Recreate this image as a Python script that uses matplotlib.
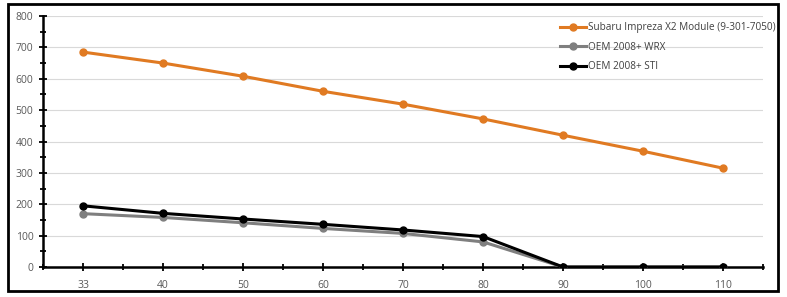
import matplotlib
matplotlib.use("Agg")
import matplotlib.pyplot as plt
from matplotlib.patches import Rectangle
from matplotlib.ticker import MultipleLocator
import numpy as np

# data
categories = ["33", "40", "50", "60", "70", "80", "90", "100", "110"]
x2_module = [685, 650, 608, 560, 519, 472, 420, 369, 315]
oem_wrx = [170, 158, 141, 123, 107, 80, 0, 0, 0]
oem_sti = [195, 171, 153, 136, 118, 97, 0, 0, 0]
series_names = ["Subaru Impreza X2 Module (9-301-7050)", "OEM 2008+ WRX", "OEM 2008+ STI"]

plt.rcParams["font.family"] = ["Open Sans", "DejaVu Sans"]

fig = plt.figure(figsize=(7.87, 2.97), dpi=100)
W, H = 787, 297
ax = fig.add_axes([43 / W, 1 - 267 / H, (763 - 43) / W, (267 - 16) / H])

xs = np.arange(len(categories))
ax.plot(xs, x2_module, color="#E07A22", lw=2.2, marker="o", ms=5, label=series_names[0], zorder=3)
ax.plot(xs, oem_wrx, color="#7F7F7F", lw=2.2, marker="o", ms=5, label=series_names[1], zorder=4)
ax.plot(xs, oem_sti, color="#000000", lw=2.2, marker="o", ms=5, label=series_names[2], zorder=5)

ax.set_xlim(-0.5, len(categories) - 0.5)
ax.set_ylim(0, 800)
ax.set_xticks(xs)
ax.set_xticklabels(categories)
ax.xaxis.set_minor_locator(MultipleLocator(0.5))
ax.yaxis.set_major_locator(MultipleLocator(100))
ax.yaxis.set_minor_locator(MultipleLocator(50))
ax.grid(axis="y", color="#D9D9D9", lw=0.8, zorder=0)
ax.set_axisbelow(True)

for s in ["top", "right"]:
    ax.spines[s].set_visible(False)
ax.spines["left"].set_linewidth(1.8)
ax.spines["bottom"].set_linewidth(1.8)
ax.tick_params(axis="both", which="both", direction="inout", color="black", width=1.3,
               labelsize=7.5, labelcolor="#595959")
ax.tick_params(axis="both", which="major", length=6)
ax.tick_params(axis="both", which="minor", length=4)
ax.tick_params(axis="x", which="minor", labelbottom=False)
ax.tick_params(axis="x", pad=6)
ax.tick_params(axis="y", pad=4)

leg = ax.legend(loc="upper right", bbox_to_anchor=(1.03, 1.01), frameon=False,
                fontsize=7.2, labelcolor="#404040", handlelength=2.6, handletextpad=0.2,
                labelspacing=0.85)

# outer frame around the whole chart
fig.add_artist(Rectangle((7.5 / W, 1 - 291 / H), (778 - 7.5) / W, (291 - 3.5) / H,
                         transform=fig.transFigure, fill=False, lw=2, ec="black"))

fig.savefig("out.png", dpi=100)
